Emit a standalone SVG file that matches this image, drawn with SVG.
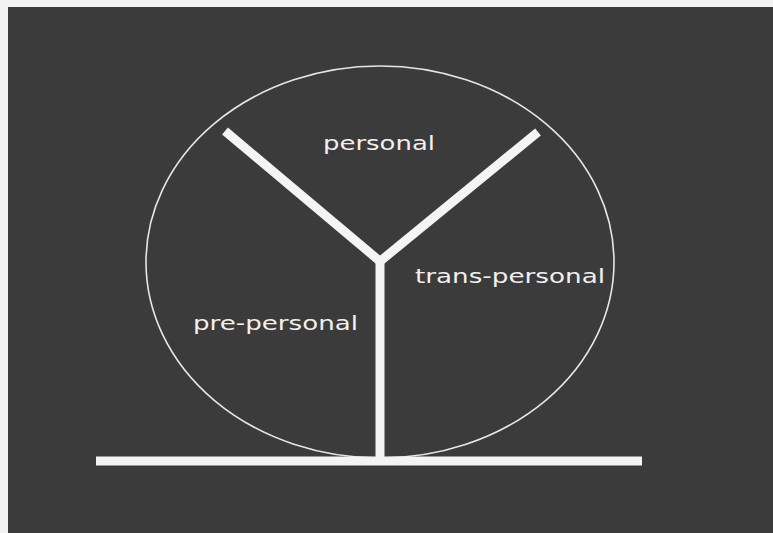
<svg xmlns="http://www.w3.org/2000/svg" width="773" height="533" viewBox="0 0 773 533">
<style>
.bar{stroke:#f4f4f4;stroke-width:9;fill:none;stroke-linecap:butt}
.lbl{font-family:"DejaVu Sans",sans-serif;font-size:20px;fill:#f0f0f0}
</style>
<rect width="773" height="533" fill="#f2f2f2"/>
<rect x="8" y="7" width="765" height="526" fill="#3b3b3b"/>
<g id="circle"><ellipse cx="380" cy="262" rx="234" ry="196" fill="none" stroke="#e6e6e6" stroke-width="1.6"/></g>
<g id="connectors">
<line class="bar" x1="225" y1="131" x2="382" y2="263"/>
<line class="bar" x1="538" y1="132" x2="378" y2="263"/>
<line class="bar" x1="380" y1="260" x2="380" y2="461"/>
<line class="bar" x1="96" y1="461" x2="642" y2="461"/>
</g>
<g id="personal"><text class="lbl" x="323" y="150" textLength="112" lengthAdjust="spacingAndGlyphs">personal</text></g>
<g id="pre-personal"><text class="lbl" x="193" y="330" textLength="165" lengthAdjust="spacingAndGlyphs">pre-personal</text></g>
<g id="trans-personal"><text class="lbl" x="415" y="283" textLength="190" lengthAdjust="spacingAndGlyphs">trans-personal</text></g>
</svg>
